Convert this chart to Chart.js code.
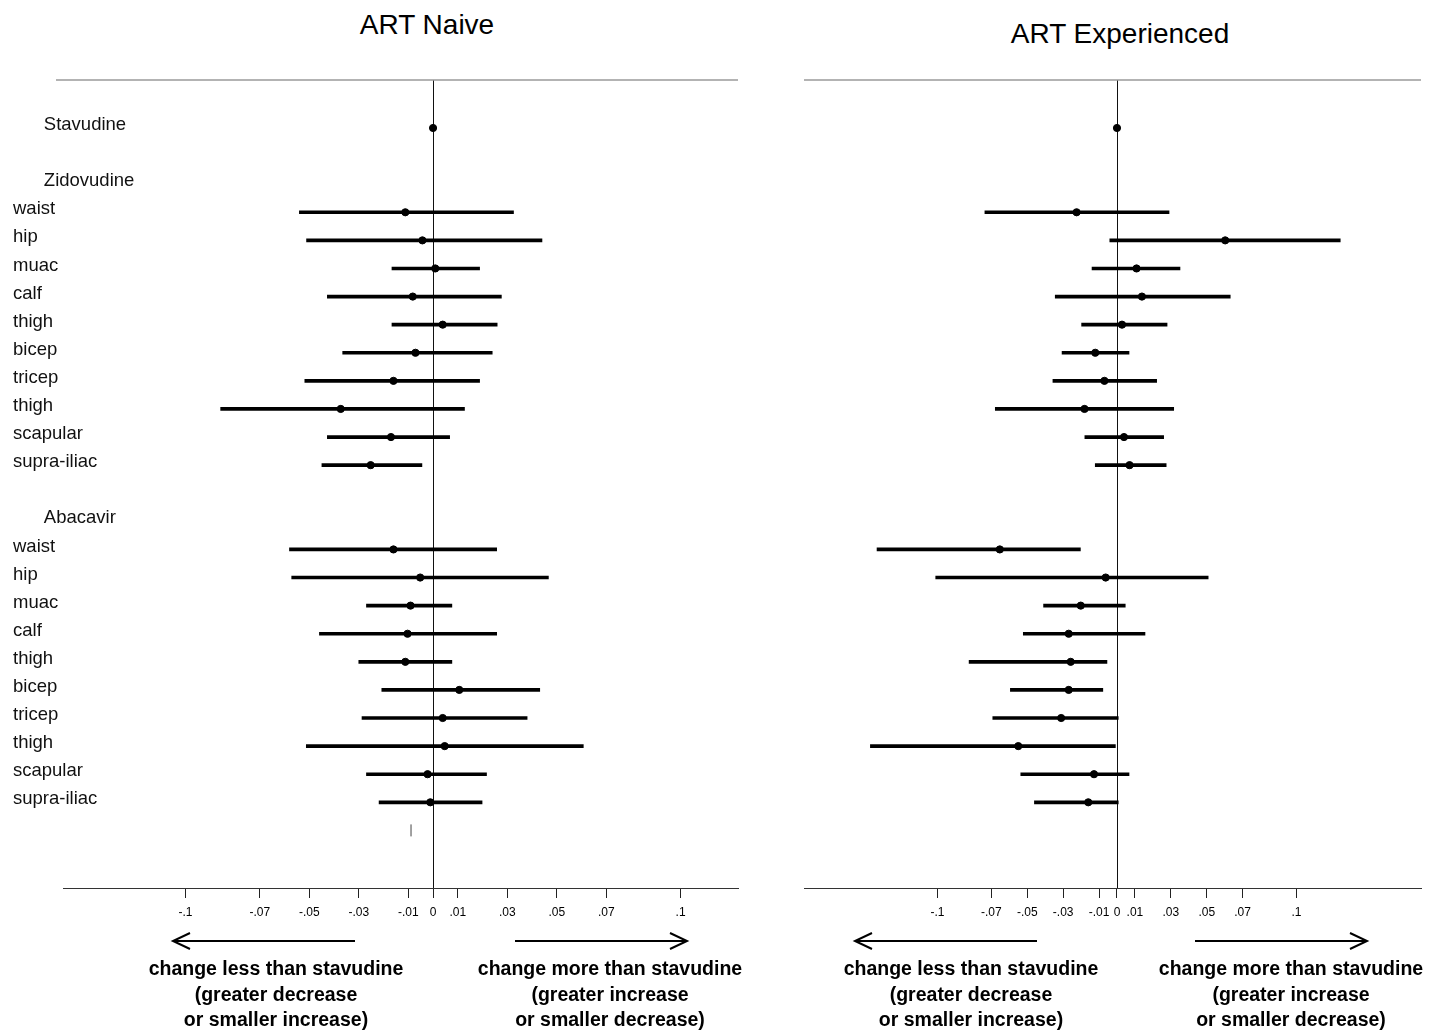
<!DOCTYPE html>
<html><head><meta charset="utf-8">
<script src="https://cdn.jsdelivr.net/npm/chart.js@4.4.1/dist/chart.umd.min.js"></script>
<style>
html,body{margin:0;padding:0;background:#fff;}
body{width:1430px;height:1032px;position:relative;overflow:hidden;font-family:"Liberation Sans",Arial,sans-serif;color:#000;}
.title{position:absolute;font-size:28px;line-height:32px;white-space:nowrap;transform:translateX(-50%);}
.cap{position:absolute;font-size:19.5px;font-weight:bold;line-height:25.5px;text-align:center;white-space:nowrap;transform:translateX(-50%);}
canvas{position:absolute;top:0;}
svg{position:absolute;left:0;top:0;}
</style></head><body>
<div class="title" style="left:427px;top:9px">ART Naive</div>
<div class="title" style="left:1120px;top:18px">ART Experienced</div>
<canvas id="cL" width="745" height="940" style="left:0px"></canvas>
<canvas id="cR" width="685" height="940" style="left:745px"></canvas>
<svg width="1430" height="1032">
 <g stroke="#000" stroke-width="2" fill="none">
  <line x1="355" y1="941" x2="173" y2="941"/><polyline points="190,933 173,941 190,949"/>
  <line x1="515" y1="941" x2="687" y2="941"/><polyline points="670,933 687,941 670,949"/>
  <line x1="1037" y1="941" x2="855" y2="941"/><polyline points="872,933 855,941 872,949"/>
  <line x1="1195" y1="941" x2="1367" y2="941"/><polyline points="1350,933 1367,941 1350,949"/>
 </g>
</svg>
<div class="cap" style="left:276px;top:956px">change less than&nbsp;stavudine<br>(greater decrease<br>or smaller increase)</div>
<div class="cap" style="left:610px;top:956px">change more than stavudine<br>(greater increase<br>or smaller decrease)</div>
<div class="cap" style="left:971px;top:956px">change less than&nbsp;stavudine<br>(greater decrease<br>or smaller increase)</div>
<div class="cap" style="left:1291px;top:956px">change more than stavudine<br>(greater increase<br>or smaller decrease)</div>
<script>
// ---- data ----
const rowLabels = ['      Stavudine','','      Zidovudine','waist','hip','muac','calf','thigh','bicep','tricep','thigh','scapular','supra-iliac','','      Abacavir','waist','hip','muac','calf','thigh','bicep','tricep','thigh','scapular','supra-iliac'];
const stavudineRow = 0;
const zidovudineRows = [3,4,5,6,7,8,9,10,11,12];
const abacavirRows = [15,16,17,18,19,20,21,22,23,24];
const stavudineEst = 0;

const tickValues = [-0.1,-0.07,-0.05,-0.03,-0.01,0,0.01,0.03,0.05,0.07,0.1];
const tickLabels = ['-.1','-.07','-.05','-.03','-.01','0','.01','.03','.05','.07','.1'];

// ART naive
const naiveZidEst = [-0.0112,-0.0043,0.0009,-0.0082,0.0039,-0.0071,-0.0160,-0.0373,-0.0170,-0.0252];
const naiveZidLo  = [-0.0540,-0.0511,-0.0166,-0.0427,-0.0166,-0.0365,-0.0518,-0.0858,-0.0427,-0.0449];
const naiveZidHi  = [0.0325,0.0440,0.0188,0.0276,0.0259,0.0239,0.0188,0.0127,0.0067,-0.0045];
const naiveAbcEst = [-0.0160,-0.0052,-0.0091,-0.0103,-0.0112,0.0106,0.0039,0.0047,-0.0022,-0.0011];
const naiveAbcLo  = [-0.0580,-0.0571,-0.0269,-0.0459,-0.0300,-0.0207,-0.0287,-0.0512,-0.0269,-0.0218];
const naiveAbcHi  = [0.0257,0.0466,0.0076,0.0257,0.0076,0.0431,0.0380,0.0607,0.0216,0.0198];
const naiveStrayMark = [{x:-0.0089, y:25}];

// ART experienced
const expZidEst = [-0.0225,0.0603,0.0109,0.0139,0.0028,-0.0121,-0.0070,-0.0181,0.0039,0.0070];
const expZidLo  = [-0.0736,-0.0040,-0.0139,-0.0344,-0.0197,-0.0306,-0.0357,-0.0678,-0.0179,-0.0121];
const expZidHi  = [0.0290,0.1244,0.0351,0.0631,0.0279,0.0067,0.0221,0.0316,0.0260,0.0274];
const expAbcEst = [-0.0653,-0.0063,-0.0202,-0.0269,-0.0258,-0.0269,-0.0311,-0.0550,-0.0128,-0.0160];
const expAbcLo  = [-0.1337,-0.1010,-0.0409,-0.0522,-0.0824,-0.0594,-0.0692,-0.1374,-0.0536,-0.0460];
const expAbcHi  = [-0.0204,0.0508,0.0046,0.0156,-0.0056,-0.0079,0.0007,-0.0009,0.0067,0.0007];

// ---- build ----
const FONT = '"Liberation Sans", Arial, sans-serif';
function intervals(rows, lo, hi){ return rows.map((r,i)=>({y:r, x:[lo[i], hi[i]]})); }
function points(rows, est){ return rows.map((r,i)=>({x:est[i], y:r})); }

const refLines = {
  id:'refLines',
  beforeDatasetsDraw(chart, args, opts){
    const {ctx, chartArea:{left,right,top,bottom}, scales:{x}} = chart;
    ctx.save();
    const x0 = Math.round(x.getPixelForValue(0)) + 0.5;
    ctx.strokeStyle = '#111'; ctx.lineWidth = 1;
    ctx.beginPath(); ctx.moveTo(x0, top); ctx.lineTo(x0, bottom); ctx.stroke();
    ctx.strokeStyle = '#9a9a9a'; ctx.lineWidth = 1.5;
    ctx.beginPath(); ctx.moveTo(left - (opts.ext || 0), top); ctx.lineTo(right, top); ctx.stroke();
    ctx.restore();
  }
};

function makeChart(id, cfg){
  const datasets = [
    {type:'bar', indexAxis:'y', data:[...intervals(zidovudineRows, cfg.zLo, cfg.zHi), ...intervals(abacavirRows, cfg.aLo, cfg.aHi)],
     backgroundColor:'#000', borderWidth:0, barThickness:3},
    {type:'scatter', data:[{x:stavudineEst, y:stavudineRow}, ...points(zidovudineRows, cfg.zEst), ...points(abacavirRows, cfg.aEst)],
     backgroundColor:'#000', borderColor:'#000', pointRadius:3.6, borderWidth:1}
  ];
  if (cfg.stray) datasets.push({type:'scatter', data:cfg.stray, pointStyle:'line', rotation:90, pointRadius:6, borderColor:'#444', borderWidth:1});
  return new Chart(document.getElementById(id), {
    type:'bar',
    data:{datasets},
    plugins:[refLines],
    options:{
      responsive:false, animation:false, indexAxis:'y',
      layout:{padding:{left:cfg.padL, right:cfg.padR, top:80, bottom:12}},
      plugins:{legend:{display:false}, tooltip:{enabled:false}, refLines:{ext:cfg.topExt}},
      scales:{
        x:{type:'linear', position:'bottom', min:cfg.xmin, max:cfg.xmax, offset:false,
           afterBuildTicks:s=>{ s.ticks = tickValues.map(v=>({value:v})); },
           afterFit:s=>{ s.height = 40; },
           ticks:{autoSkip:false, maxRotation:0, minRotation:0, padding:7, color:'#000', font:{size:12, family:FONT},
                  callback:(v,i)=>tickLabels[i]},
           grid:{drawOnChartArea:false, drawTicks:true, tickLength:10, color:'#222', lineWidth:1, offset:false},
           border:{display:true, color:'#333', width:1}},
        y:{type:'linear', position:'left', min:-1.708, max:27.05, reverse:true, display:cfg.showLabels, offset:false,
           afterBuildTicks:s=>{ s.ticks = rowLabels.map((_,i)=>({value:i})); },
           afterFit:s=>{ s.width = 0; },
           ticks:{mirror:true, padding:-50, autoSkip:false, color:'#111', labelOffset:-3, font:{size:18.5, family:FONT},
                  callback:(v)=>rowLabels[v]},
           grid:{display:false, offset:false}, border:{display:false}}
      }
    }
  });
}

makeChart('cL', {zEst:naiveZidEst, zLo:naiveZidLo, zHi:naiveZidHi, aEst:naiveAbcEst, aLo:naiveAbcLo, aHi:naiveAbcHi,
  stray:naiveStrayMark, xmin:-0.1495, xmax:0.1232, padL:63, padR:7, showLabels:true, topExt:7});
makeChart('cR', {zEst:expZidEst, zLo:expZidLo, zHi:expZidHi, aEst:expAbcEst, aLo:expAbcLo, aHi:expAbcHi,
  stray:null, xmin:-0.1744, xmax:0.1694, padL:59, padR:9, showLabels:false, topExt:0});
</script>
</body></html>
